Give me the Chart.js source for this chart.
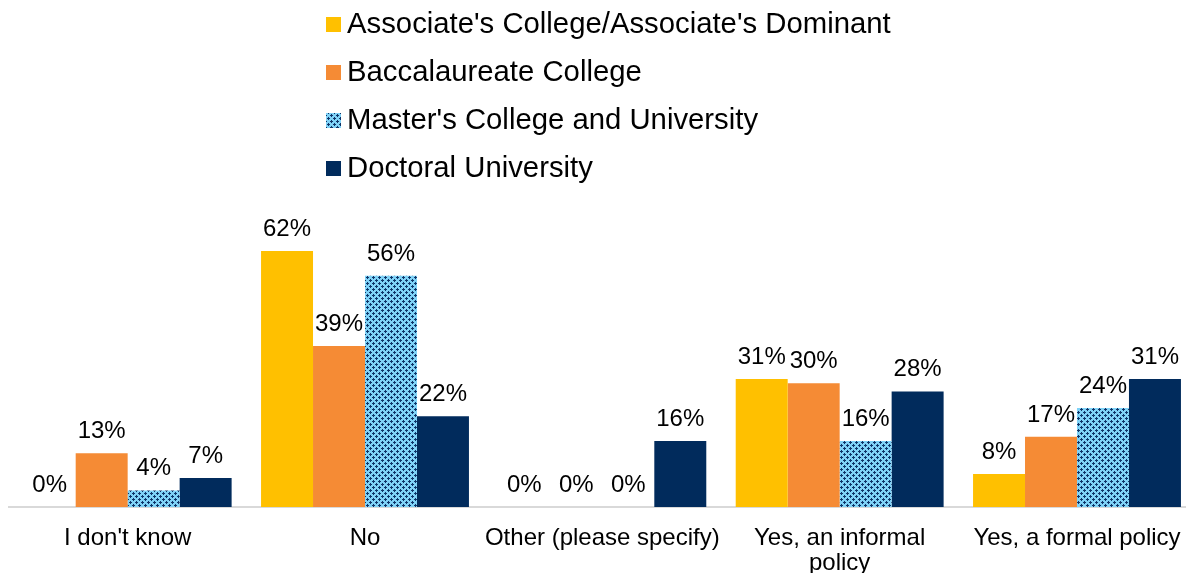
<!DOCTYPE html>
<html>
<head>
<meta charset="utf-8">
<script src="https://cdn.jsdelivr.net/npm/chart.js@4"></script>
<style>
html,body{margin:0;padding:0;background:#fff;overflow:hidden;}
#wrap{position:relative;width:1200px;height:573px;}
canvas{display:block;}
</style>
</head>
<body>
<div id="wrap"><canvas id="c" width="1200" height="573" style="width:1200px;height:573px"></canvas></div>
<script>
const categories = [["I don't know"], ["No"], ["Other (please specify)"], ["Yes, an informal", "policy"], ["Yes, a formal policy"]];
const seriesNames = ["Associate's College/Associate's Dominant", "Baccalaureate College", "Master's College and University", "Doctoral University"];
const associate = [0, 62, 0, 31, 8];
const baccalaureate = [13, 39, 0, 30, 17];
const masters = [4, 56, 0, 16, 24];
const doctoral = [7, 22, 16, 28, 31];

const FONT = "'Liberation Sans', Arial, sans-serif";

function makePattern() {
  const t = document.createElement('canvas');
  t.width = 6; t.height = 6;
  const g = t.getContext('2d');
  g.fillStyle = '#7fd2f7';
  g.fillRect(0, 0, 6, 6);
  g.fillStyle = '#0e3468';
  const pts = [[1,0],[0,1],[1,1],[2,1],[1,2],[4,3],[3,4],[4,4],[5,4],[4,5]];
  pts.forEach(p => g.fillRect(p[0], p[1], 1, 1));
  return document.getElementById('c').getContext('2d').createPattern(t, 'repeat');
}
const pattern = makePattern();
const colors = ['#ffc000', '#f58b35', pattern, '#012b5c'];
const values = [associate, baccalaureate, masters, doctoral];

const labelPlugin = {
  id: 'barLabels',
  afterDatasetsDraw(chart) {
    const ctx = chart.ctx;
    ctx.save();
    ctx.font = '24px ' + FONT;
    ctx.fillStyle = '#000';
    ctx.textAlign = 'center';
    ctx.textBaseline = 'alphabetic';
    chart.data.datasets.forEach((ds, i) => {
      chart.getDatasetMeta(i).data.forEach((el, j) => {
        ctx.fillText(ds.data[j] + '%', el.x, el.y - 15);
      });
    });
    ctx.restore();
  }
};

const legendPlugin = {
  id: 'customLegend',
  afterDraw(chart) {
    const ctx = chart.ctx;
    ctx.save();
    ctx.font = '29.3px ' + FONT;
    ctx.textAlign = 'left';
    ctx.textBaseline = 'alphabetic';
    chart.data.datasets.forEach((ds, i) => {
      const base = 33 + i * 48;
      ctx.fillStyle = ds.backgroundColor;
      ctx.fillRect(326, base - 16, 15, 15);
      ctx.fillStyle = '#000';
      ctx.fillText(ds.label, 347, base);
    });
    ctx.restore();
  }
};

new Chart(document.getElementById('c'), {
  type: 'bar',
  data: {
    labels: categories,
    datasets: seriesNames.map((n, i) => ({
      label: n,
      data: values[i],
      backgroundColor: colors[i],
      borderWidth: 0,
      barPercentage: 1,
      categoryPercentage: 0.876
    }))
  },
  options: {
    responsive: false,
    animation: false,
    devicePixelRatio: 1,
    layout: { padding: { top: 218, left: 9, right: 4, bottom: 0 } },
    plugins: { legend: { display: false }, tooltip: { enabled: false } },
    scales: {
      x: {
        grid: { display: false, drawTicks: false },
        border: { display: true, color: '#d9d9d9', width: 2 },
        ticks: { color: '#000', font: { family: FONT, size: 24, lineHeight: 1.05 }, padding: 19, maxRotation: 0, autoSkip: false },
        afterFit(scale) { scale.height = 66; }
      },
      y: { display: false, min: 0, max: 70 }
    }
  },
  plugins: [labelPlugin, legendPlugin]
});
</script>
</body>
</html>
